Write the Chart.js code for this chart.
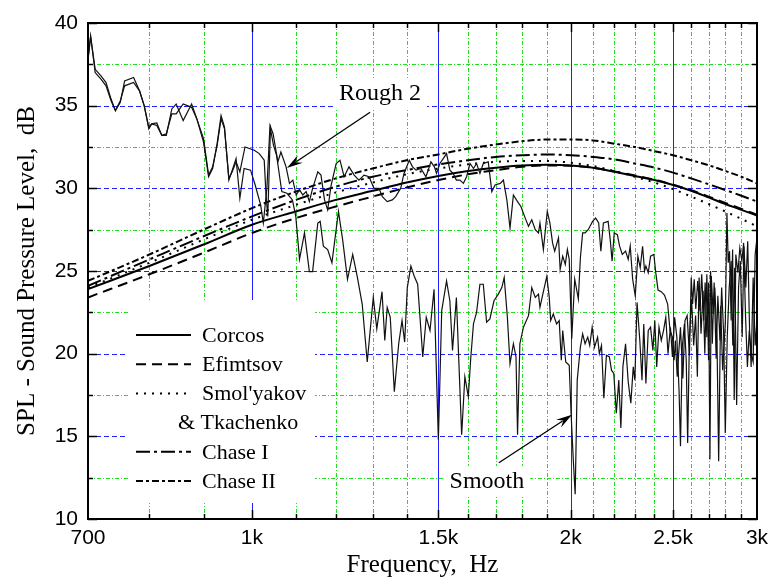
<!DOCTYPE html>
<html>
<head>
<meta charset="utf-8">
<title>SPL - Sound Pressure Level</title>
<script src="https://cdn.jsdelivr.net/npm/chart.js@4.4.1/dist/chart.umd.min.js"></script>
<style>
  html, body { margin: 0; padding: 0; background: #fff; }
  #wrap { width: 768px; height: 582px; }
</style>
</head>
<body>
<div id="wrap"><canvas id="myChart" width="768" height="582"></canvas></div>
<script>
//+++++++++++++++++++++++ Start:data +++++++++++++++++++++++
// model curves, sampled every 100 Hz
var modelFreq = [700, 800, 900, 1000, 1100, 1200, 1300, 1400, 1500, 1600, 1700, 1800,
	1900, 2000, 2100, 2200, 2300, 2400, 2500, 2600, 2700, 2800, 2900, 3000];
var corcos = [23.9, 25.3, 26.6, 27.8, 28.6, 29.3, 29.85, 30.35, 30.75, 31.05, 31.25, 31.38,
	31.42, 31.38, 31.25, 31.0, 30.75, 30.5, 30.2, 29.85, 29.45, 29.05, 28.7, 28.35];
var efimtsov = [23.4, 24.8, 26.1, 27.3, 28.2, 28.9, 29.5, 30.05, 30.5, 30.85, 31.1, 31.3,
	31.38, 31.36, 31.25, 31.02, 30.78, 30.52, 30.22, 29.88, 29.5, 29.12, 28.76, 28.4];
var smolyakov = [24.0, 25.5, 26.9, 28.1, 29.0, 29.75, 30.35, 30.85, 31.2, 31.45, 31.6, 31.65,
	31.65, 31.55, 31.35, 31.05, 30.7, 30.35, 29.95, 29.5, 29.05, 28.6, 28.15, 27.7];
var chase1 = [24.1, 25.7, 27.1, 28.3, 29.3, 30.1, 30.7, 31.1, 31.45, 31.7, 31.9, 32.0,
	32.05, 32.0, 31.9, 31.75, 31.5, 31.25, 30.95, 30.6, 30.25, 29.9, 29.55, 29.2];
var chase2 = [24.4, 26.0, 27.5, 28.8, 29.8, 30.6, 31.2, 31.7, 32.05, 32.4, 32.65, 32.85,
	32.95, 32.95, 32.9, 32.7, 32.5, 32.25, 32.0, 31.7, 31.4, 31.05, 30.7, 30.3];

// measured spectrum, rough wall
var roughFreq = [700, 704, 711, 720, 728, 736, 743, 751, 758, 773, 783, 791, 799, 804, 813, 822, 830, 840, 848, 861,
	877, 887, 900, 910, 918, 927, 935, 942, 951, 958, 966, 974, 983, 997, 1007, 1019, 1025, 1033, 1040, 1047,
	1058, 1065, 1077, 1085, 1093, 1101, 1109, 1117, 1125, 1133, 1141, 1154, 1162, 1171, 1179, 1188, 1201, 1211, 1222, 1235,
	1249, 1262, 1276, 1290, 1304, 1318, 1328, 1342, 1357, 1367, 1382, 1392, 1408, 1418, 1429, 1444, 1460, 1476, 1487, 1494,
	1505, 1516, 1527, 1538, 1549, 1560, 1572, 1584, 1595, 1607, 1619, 1630, 1642, 1654, 1672, 1685, 1697, 1716, 1728, 1741,
	1753, 1766, 1782, 1795, 1812, 1825, 1838, 1852, 1865, 1871, 1885, 1901, 1912, 1923, 1932, 1948, 1955, 1966, 1977, 1986,
	1994, 2005, 2018, 2034, 2043, 2053, 2064, 2078, 2098, 2112, 2126, 2136, 2148, 2170, 2180, 2189, 2199, 2214, 2225, 2238,
	2254, 2267, 2277, 2289, 2302, 2315, 2327, 2339, 2349, 2356, 2368, 2380, 2397, 2407, 2419, 2436, 2453, 2470, 2483, 2496,
	2505, 2512, 2522, 2530, 2540, 2553, 2565, 2577, 2590, 2600, 2608, 2617, 2626, 2637, 2650, 2660, 2672, 2680, 2690, 2700,
	2708, 2716, 2727, 2737, 2750, 2760, 2772, 2784, 2800, 2810, 2818, 2826, 2836, 2845, 2855, 2865, 2878, 2890, 2903, 2914,
	2926, 2938, 2950, 2962, 2975, 2988, 3000];
var roughSpl = [37.8, 39.2, 37.2, 36.8, 36.4, 35.4, 34.7, 35.2, 36.5, 36.7, 35.9, 35.0, 33.6, 33.9, 33.95, 33.2, 33.2, 34.8, 35.1, 34.1,
	35.1, 34.2, 32.8, 30.7, 31.2, 32.7, 34.4, 33.7, 30.5, 31.1, 31.8, 29.4, 31.2, 31.1, 30.2, 29.0, 27.9, 30.0, 33.8, 33.3,
	31.6, 32.2, 31.3, 30.3, 30.5, 29.6, 29.9, 29.6, 29.8, 29.2, 30.0, 31.0, 30.8, 29.3, 28.7, 30.2, 31.5, 31.7, 30.7, 31.3,
	30.8, 30.5, 30.8, 30.7, 30.0, 30.0, 29.5, 29.2, 29.3, 29.5, 30.0, 30.9, 31.7, 31.3, 31.1, 31.2, 30.7, 31.6, 31.3, 30.9,
	31.5, 31.8, 32.1, 31.1, 30.9, 30.5, 30.5, 30.3, 30.7, 31.5, 31.2, 31.5, 30.9, 31.5, 31.6, 29.8, 30.2, 30.3, 30.5, 29.3,
	27.6, 29.6, 29.2, 28.9, 28.2, 27.7, 28.1, 27.5, 27.3, 27.9, 26.3, 28.6, 27.9, 26.7, 26.2, 27.0, 25.1, 25.9, 25.4, 26.3,
	25.7, 20.9, 24.5, 23.3, 25.8, 27.3, 27.3, 27.5, 28.0, 28.2, 27.9, 26.2, 27.9, 28.0, 26.9, 25.6, 27.3, 27.2, 26.5, 26.0,
	26.2, 25.7, 26.5, 24.5, 23.5, 25.9, 25.2, 26.5, 25.0, 25.3, 24.9, 25.9, 26.0, 24.9, 23.85, 23.75, 23.55, 23.0, 21.4, 21.0,
	19.6, 20.8, 18.6, 20.0, 21.6, 18.5, 22.0, 22.3, 19.9, 24.6, 23.0, 24.5, 22.7, 24.4, 22.6, 24.8, 22.0, 24.3, 21.0, 24.3,
	13.6, 24.7, 22.4, 24.0, 20.8, 13.5, 22.9, 19.0, 21.8, 28.5, 25.5, 26.2, 22.0, 26.3, 17.2, 26.0, 24.9, 26.4, 25.6, 26.7,
	22.3, 19.2, 21.4, 20.0, 19.5, 26.0, 27.0];

// measured spectrum, smooth wall
var smoothFreq = [700, 704, 711, 720, 728, 736, 743, 751, 758, 773, 783, 791, 799, 804, 813, 822, 830, 840, 848, 861,
	877, 887, 900, 910, 918, 927, 935, 942, 951, 958, 966, 974, 985, 1005, 1016, 1027, 1031, 1035, 1041, 1048,
	1055, 1067, 1079, 1092, 1100, 1109, 1121, 1133, 1141, 1154, 1160, 1168, 1179, 1190, 1207, 1218, 1231, 1245, 1257, 1271,
	1285, 1302, 1312, 1327, 1335, 1342, 1351, 1363, 1376, 1386, 1394, 1402, 1413, 1423, 1434, 1450, 1461, 1473, 1486, 1500,
	1511, 1527, 1538, 1547, 1560, 1578, 1589, 1601, 1609, 1619, 1630, 1642, 1654, 1666, 1678, 1693, 1709, 1722, 1731, 1743,
	1753, 1766, 1776, 1782, 1791, 1805, 1825, 1838, 1852, 1865, 1871, 1885, 1899, 1909, 1915, 1926, 1940, 1951, 1960, 1966,
	1979, 1994, 2002, 2012, 2020, 2029, 2043, 2053, 2064, 2076, 2085, 2096, 2107, 2121, 2129, 2139, 2150, 2162, 2176, 2186,
	2197, 2209, 2221, 2231, 2241, 2254, 2267, 2280, 2292, 2300, 2311, 2325, 2336, 2345, 2356, 2368, 2380, 2392, 2402, 2412,
	2424, 2436, 2448, 2460, 2472, 2485, 2496, 2508, 2520, 2532, 2540, 2550, 2562, 2572, 2580, 2590, 2602, 2614, 2625, 2635,
	2645, 2656, 2668, 2678, 2690, 2700, 2712, 2722, 2733, 2745, 2755, 2768, 2778, 2790, 2800, 2812, 2824, 2836, 2846, 2858,
	2870, 2882, 2893, 2905, 2916, 2928, 2940, 2952, 2962, 2975, 2988, 3000];
var smoothSpl = [37.8, 39.2, 37.0, 36.6, 36.2, 35.3, 34.7, 35.3, 36.2, 36.4, 35.9, 35.0, 33.7, 33.9, 33.8, 33.2, 33.3, 34.5, 34.5, 35.1,
	34.9, 34.2, 33.0, 30.8, 31.3, 32.6, 34.2, 33.6, 30.6, 31.0, 31.6, 31.0, 32.5, 32.3, 32.1, 31.7, 29.6, 28.3, 33.6, 32.6,
	32.0, 29.8, 29.7, 29.3, 28.3, 25.7, 27.3, 24.96, 24.96, 27.9, 28.0, 26.5, 26.3, 25.5, 28.6, 26.9, 24.5, 26.0, 24.7, 23.0,
	19.5, 23.4, 21.5, 23.75, 20.8, 22.8, 22.2, 17.7, 20.6, 22.0, 20.7, 24.0, 25.3, 24.7, 24.2, 19.8, 22.2, 21.4, 23.9, 14.8,
	22.6, 24.4, 23.2, 20.2, 23.4, 15.1, 18.6, 17.4, 19.6, 21.8, 22.5, 24.2, 24.2, 21.9, 22.1, 23.2, 23.6, 24.0, 24.6, 22.2,
	19.4, 20.6, 19.8, 15.1, 20.6, 21.6, 22.3, 24.0, 23.4, 23.6, 22.8, 23.75, 24.66, 23.45, 22.0, 22.4, 21.8, 22.0, 19.6, 21.4,
	19.5, 19.3, 16.4, 13.5, 11.5, 18.4, 20.4, 21.2, 20.6, 21.0, 20.5, 21.6, 20.4, 21.0, 20.0, 20.5, 17.3, 19.9, 19.8, 19.0,
	18.8, 16.4, 18.4, 15.5, 19.2, 20.6, 18.3, 17.0, 19.2, 18.4, 23.1, 20.8, 18.4, 21.8, 18.2, 21.4, 21.6, 20.2, 22.0, 19.2,
	21.6, 20.8, 21.4, 22.2, 20.0, 21.6, 19.8, 22.2, 21.0, 17.8, 14.4, 20.4, 21.8, 19.6, 14.6, 21.0, 23.3, 20.5, 22.3, 18.6,
	24.6, 21.2, 23.8, 20.0, 24.8, 19.6, 25.0, 20.6, 24.3, 19.7, 23.5, 20.8, 24.0, 21.2, 15.2, 21.0, 24.0, 25.6, 20.5, 25.2,
	16.9, 24.0, 25.6, 21.0, 26.5, 24.0, 26.8, 21.4, 19.2, 24.6, 20.5, 22.0];

// axes
var xTickLabels = [700, 1000, 1500, 2000, 2500, 3000];
var xMajorGrid = [1000, 1500, 2000, 2500];
var xMinorGrid = [800, 900, 1100, 1200, 1300, 1400, 1600, 1700, 1800, 1900,
	2100, 2200, 2300, 2400, 2600, 2700, 2800, 2900];
var yTicks = [10, 15, 20, 25, 30, 35, 40];
var yMinorGrid = [12.5, 17.5, 22.5, 27.5, 32.5, 37.5];
//-------------------- End:data --------------------

var SERIF = '"Liberation Serif", "Times New Roman", serif';
var SANS = '"Liberation Sans", Arial, sans-serif';
var BLUE = '#1f1fff';
var GREEN = '#22dd22';

function pairs(xs, ys) {
	return xs.map(function (f, i) { return { x: f, y: ys[i] }; });
}

function kLabel(v) {
	return v >= 1000 ? (v / 1000) + 'k' : String(v);
}

function modelSet(label, values, dash) {
	return {
		label: label,
		data: pairs(modelFreq, values),
		borderColor: '#000',
		borderWidth: 2,
		borderDash: dash,
		pointRadius: 0,
		fill: false,
		cubicInterpolationMode: 'monotone'
	};
}

function noisySet(label, xs, ys) {
	return {
		label: label,
		data: pairs(xs, ys),
		borderColor: '#111',
		borderWidth: 1.2,
		pointRadius: 0,
		fill: false,
		tension: 0
	};
}

// labels with arrows, anchored in data units
var notes = [
	{ text: 'Rough 2', at: [1321, 35.77], from: [1293, 34.6], to: [1079, 31.23] },
	{ text: 'Smooth', at: [1667, 12.3], from: [1711, 13.4], to: [2006, 16.3] }
];

function drawArrow(ctx, x0, y0, x1, y1) {
	var a = Math.atan2(y1 - y0, x1 - x0), L = 16, W = 4.5;
	var c = Math.cos(a), s = Math.sin(a);
	ctx.beginPath();
	ctx.moveTo(x0, y0);
	ctx.lineTo(x1 - L * 0.7 * c, y1 - L * 0.7 * s);
	ctx.stroke();
	ctx.beginPath();
	ctx.moveTo(x1, y1);
	ctx.lineTo(x1 - L * c + W * s, y1 - L * s - W * c);
	ctx.lineTo(x1 - L * 0.65 * c, y1 - L * 0.65 * s);
	ctx.lineTo(x1 - L * c - W * s, y1 - L * s + W * c);
	ctx.closePath();
	ctx.fill();
}

function hline(ctx, x0, x1, y) {
	ctx.beginPath(); ctx.moveTo(x0, y); ctx.lineTo(x1, y); ctx.stroke();
}
function vline(ctx, x, y0, y1) {
	ctx.beginPath(); ctx.moveTo(x, y0); ctx.lineTo(x, y1); ctx.stroke();
}

//+++++++++++++++++++++++ Start:paper plugin +++++++++++++++++++++++
var paperPlugin = {
	id: 'paper',
	beforeDatasetsDraw: function (chart) {
		var ctx = chart.ctx, a = chart.chartArea, x = chart.scales.x, y = chart.scales.y;
		ctx.save();
		ctx.beginPath();
		ctx.rect(a.left, a.top, a.right - a.left, a.bottom - a.top);
		ctx.clip();
		ctx.lineWidth = 1;

		// minor grid: green dash-dot
		ctx.strokeStyle = GREEN;
		ctx.setLineDash([4, 2, 1, 2]);
		xMinorGrid.forEach(function (v) {
			var px = Math.round(x.getPixelForValue(v)) + 0.5;
			vline(ctx, px, a.top, a.bottom);
		});
		yMinorGrid.forEach(function (v) {
			var py = Math.round(y.getPixelForValue(v)) + 0.5;
			hline(ctx, a.left, a.right, py);
		});

		// major grid: blue
		ctx.strokeStyle = BLUE;
		ctx.setLineDash([]);
		xMajorGrid.forEach(function (v) {
			var px = Math.round(x.getPixelForValue(v)) + 0.5;
			vline(ctx, px, a.top, a.bottom);
		});
		ctx.setLineDash([5, 3]);
		yTicks.forEach(function (v) {
			var py = Math.round(y.getPixelForValue(v)) + 0.5;
			hline(ctx, a.left, a.right, py);
		});
		ctx.setLineDash([]);

		// white boxes under legend and labels
		ctx.fillStyle = '#fff';
		ctx.fillRect(a.left + 40, a.top + 277, 187, 203);
		ctx.font = '24px ' + SERIF;
		notes.forEach(function (n) {
			var w = ctx.measureText(n.text).width;
			var cx = x.getPixelForValue(n.at[0]), cy = y.getPixelForValue(n.at[1]);
			ctx.fillRect(cx - w / 2 - 6, cy - 15, w + 12, 30);
		});
		ctx.restore();
	},
	afterDatasetsDraw: function (chart) {
		var ctx = chart.ctx, a = chart.chartArea, x = chart.scales.x, y = chart.scales.y;
		ctx.save();

		// tick marks, inside, on all four sides
		ctx.strokeStyle = '#000';
		ctx.lineWidth = 1.5;
		xMinorGrid.concat(xMajorGrid).forEach(function (v) {
			var px = Math.round(x.getPixelForValue(v)) + 0.5;
			var len = xMajorGrid.indexOf(v) >= 0 ? 9 : 5;
			vline(ctx, px, a.bottom, a.bottom - len);
			vline(ctx, px, a.top, a.top + len);
		});
		yTicks.concat(yMinorGrid).forEach(function (v) {
			var py = Math.round(y.getPixelForValue(v)) + 0.5;
			var len = yTicks.indexOf(v) >= 0 ? 9 : 5;
			hline(ctx, a.left, a.left + len, py);
			hline(ctx, a.right, a.right - len, py);
		});

		// frame
		ctx.lineWidth = 2;
		ctx.strokeRect(a.left, a.top, a.right - a.left, a.bottom - a.top);

		// legend
		var rows = [];
		chart.data.datasets.forEach(function (ds) {
			if (!ds.inLegend) return;
			var parts = ds.label.split(' & ');
			rows.push({ text: parts[0], ds: ds });
			if (parts.length > 1) rows.push({ text: '& ' + parts[1], ds: null });
		});
		ctx.font = '22px ' + SERIF;
		ctx.fillStyle = '#000';
		ctx.textBaseline = 'middle';
		ctx.textAlign = 'left';
		rows.forEach(function (r, i) {
			var ry = a.top + 312 + i * 29.2;
			if (r.ds) {
				ctx.lineWidth = r.ds.borderWidth;
				ctx.setLineDash(r.ds.borderDash || []);
				hline(ctx, a.left + 48, a.left + 103, ry);
				ctx.setLineDash([]);
				ctx.fillText(r.text, a.left + 114, ry + 1);
			} else {
				ctx.fillText(r.text, a.left + 90, ry + 1);
			}
		});

		// labels + arrows
		ctx.font = '24px ' + SERIF;
		ctx.textAlign = 'center';
		ctx.lineWidth = 1.3;
		notes.forEach(function (n) {
			ctx.fillText(n.text, x.getPixelForValue(n.at[0]), y.getPixelForValue(n.at[1]) + 1);
			drawArrow(ctx,
				x.getPixelForValue(n.from[0]), y.getPixelForValue(n.from[1]),
				x.getPixelForValue(n.to[0]), y.getPixelForValue(n.to[1]));
		});
		ctx.restore();
	}
};
//-------------------- End:paper plugin --------------------

//+++++++++++++++++++++++ Start:Chartjs +++++++++++++++++++++++
var ctx = document.getElementById('myChart').getContext('2d');
var datasets = [
	noisySet('Rough 2', roughFreq, roughSpl),
	noisySet('Smooth', smoothFreq, smoothSpl),
	modelSet('Corcos', corcos, []),
	modelSet('Efimtsov', efimtsov, [10, 6]),
	modelSet("Smol'yakov & Tkachenko", smolyakov, [2, 6]),
	modelSet('Chase I', chase1, [14, 4, 3, 4]),
	modelSet('Chase II', chase2, [7, 3, 3, 3])
];
datasets.forEach(function (ds, i) { ds.inLegend = i >= 2; });

var chart = new Chart(ctx, {
	type: 'line',
	data: { datasets: datasets },
	plugins: [paperPlugin],
	options: {
		responsive: false,
		animation: false,
		layout: { padding: { top: 23, right: 11, bottom: 0, left: 0 } },
		plugins: {
			legend: { display: false },
			tooltip: { enabled: false }
		},
		scales: {
			x: {
				type: 'logarithmic',
				min: 700,
				max: 3000,
				afterBuildTicks: function (s) {
					s.ticks = xTickLabels.map(function (v) { return { value: v }; });
				},
				afterFit: function (s) {
					s.height = 63;
					s.paddingLeft = 0;
					s.paddingRight = 0; // last label may overhang into the layout padding
				},
				ticks: {
					autoSkip: false,
					maxRotation: 0,
					padding: 7,
					color: '#000',
					font: { family: SANS, size: 21 },
					callback: function (v) { return kLabel(v); }
				},
				grid: { display: false, drawTicks: false },
				border: { display: false },
				title: {
					display: true,
					text: 'Frequency,  Hz',
					color: '#000',
					font: { family: SERIF, size: 25, lineHeight: 1.2 },
					padding: { top: 0, bottom: 2 }
				}
			},
			y: {
				min: 10,
				max: 40,
				afterBuildTicks: function (s) {
					s.ticks = yTicks.map(function (v) { return { value: v }; });
				},
				afterFit: function (s) {
					s.width = 88;
					s.paddingTop = 0;
					s.paddingBottom = 0;
				},
				ticks: {
					padding: 10,
					color: '#000',
					font: { family: SANS, size: 21 }
				},
				grid: { display: false, drawTicks: false },
				border: { display: false },
				title: {
					display: true,
					text: 'SPL - Sound Pressure Level,  dB',
					color: '#000',
					font: { family: SERIF, size: 25, lineHeight: 1.2 },
					padding: { top: 12, bottom: 0 }
				}
			}
		}
	}
});
//-------------------- End:Chartjs --------------------
</script>
</body>
</html>
